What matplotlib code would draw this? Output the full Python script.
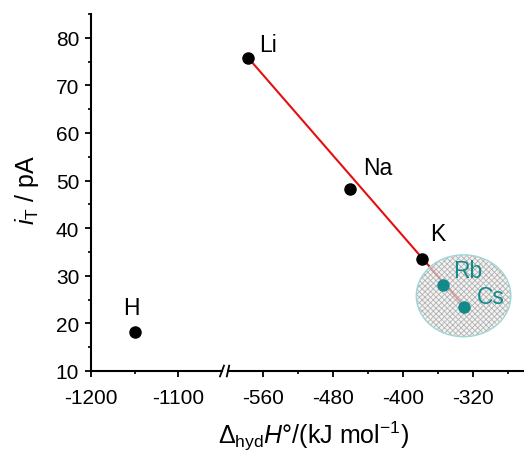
import matplotlib
matplotlib.use("Agg")
from matplotlib import pyplot as plt
from matplotlib.patches import Ellipse

plt.rcParams['font.family'] = ['Liberation Sans', 'DejaVu Sans']
plt.rcParams['mathtext.fontset'] = 'custom'
plt.rcParams['mathtext.rm'] = 'Liberation Sans'
plt.rcParams['mathtext.it'] = 'Liberation Sans:italic'
plt.rcParams['axes.unicode_minus'] = False
plt.rcParams['hatch.linewidth'] = 0.6

# ions and their values
ions = ["H", "Li", "Na", "K", "Rb", "Cs"]
dh_hyd = [-1150, -577, -461, -379, -354, -330]
i_t = [18.2, 75.8, 48.2, 33.5, 28.0, 23.5]
highlight = ["Rb", "Cs"]
# label offsets in points (dx, dy)
label_offsets = {"H": (-8, 13), "Li": (8, 5), "Na": (10, 11),
                 "K": (6, 14), "Rb": (7, 6), "Cs": (9, 3)}

TEAL = "#138a8a"
RED = "#e41010"

fig = plt.figure(figsize=(5.24, 4.52), dpi=100)
bottom = 1 - 372 / 452
height = (372 - 15) / 452
ax1 = fig.add_axes([91 / 524, bottom, 131 / 524, height])
ax2 = fig.add_axes([228 / 524, bottom, 1 - 228 / 524, height], sharey=ax1)

ax1.set_xlim(-1200, -1050)
ax2.set_xlim(-600, -262)
ax1.set_ylim(10, 85)

for ax in (ax1, ax2):
    for side in ("top", "right"):
        ax.spines[side].set_visible(False)
    ax.spines["bottom"].set_linewidth(1.5)
    ax.spines["left"].set_linewidth(1.5)
    ax.tick_params(which="major", direction="out", length=4.5, width=1.3,
                   labelsize=15, pad=4)
    ax.tick_params(which="minor", direction="out", length=2.5, width=1.2)
    ax.tick_params(axis="x", which="major", pad=8)

ax2.spines["left"].set_visible(False)
ax2.tick_params(axis="y", which="both", left=False, labelleft=False)

ax1.set_yticks([10, 20, 30, 40, 50, 60, 70, 80])
ax1.set_yticks([15, 25, 35, 45, 55, 65, 75, 85], minor=True)
ax1.set_xticks([-1200, -1100])
ax1.set_xticks([-1150], minor=True)
ax2.set_xticks([-560, -480, -400, -320])
ax2.set_xticks([-520, -440, -360, -280], minor=True)

# fit line through the alkali ions
alk_x = dh_hyd[1:]
alk_y = i_t[1:]
ax2.plot([alk_x[0], alk_x[-1]], [alk_y[0], alk_y[-1]], color=RED, lw=1.5, zorder=2)

# hatched circle around Rb and Cs
ell = Ellipse((-331, 25.8), 108, 17.2, facecolor="#eeeeee", edgecolor="#909090",
              hatch="xxxxxx", lw=0, alpha=0.65, zorder=3)
ax2.add_patch(ell)
ax2.add_patch(Ellipse((-331, 25.8), 108, 17.2, facecolor="none",
                      edgecolor="#9fd6d6", lw=1.0, zorder=3))

for name, x, y in zip(ions, dh_hyd, i_t):
    ax = ax1 if x < -1000 else ax2
    col = TEAL if name in highlight else "black"
    ax.plot(x, y, "o", color=col, ms=8, zorder=5, clip_on=False)
    dx, dy = label_offsets[name]
    ax.annotate(name, (x, y), xytext=(dx, dy), textcoords="offset points",
                fontsize=16.5, color=col, ha="left", va="baseline", zorder=6)

# axis break marks
ax1.plot([0.985, 1.015], [-0.015, 0.015], transform=ax1.transAxes,
         color="black", lw=1.3, clip_on=False)
ax2.plot([-0.004, 0.004], [-0.015, 0.015], transform=ax2.transAxes,
         color="black", lw=1.3, clip_on=False)

fig.text(27 / 524, 1 - 190 / 452, r"$i_\mathrm{T}$ / pA", rotation=90,
         fontsize=18, ha="center", va="center")
fig.text(314 / 524, 1 - 436 / 452, r"$\Delta_\mathrm{hyd}H$°/(kJ mol$^{-1}$)",
         fontsize=18, ha="center", va="center")

plt.savefig("out.png", dpi=100)
